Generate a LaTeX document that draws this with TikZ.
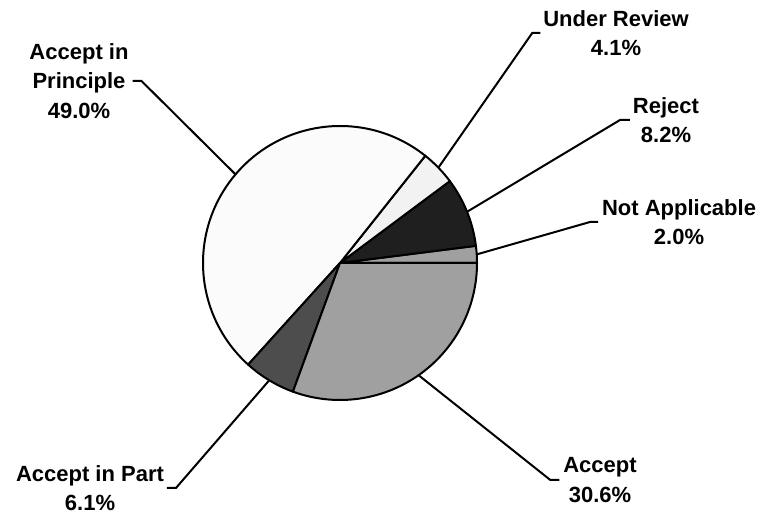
\documentclass[tikz,border=0pt]{standalone}
\usepackage{fontspec}
\setmainfont{Liberation Sans}
\definecolor{cPrin}{HTML}{FBFBFB}
\definecolor{cRev}{HTML}{F2F2F2}
\definecolor{cRej}{HTML}{1F1F1F}
\definecolor{cNA}{HTML}{A0A0A0}
\definecolor{cAcc}{HTML}{A0A0A0}
\definecolor{cPart}{HTML}{4D4D4D}
\tikzset{
  slice/.style={draw=black, line width=2pt, line join=round},
  leader/.style={draw=black, line width=2pt},
  lbl/.style={inner sep=0pt, outer sep=0pt, align=center, font=\bfseries\fontsize{22}{29.5}\selectfont}
}
\begin{document}
\begin{tikzpicture}[x=1pt,y=1pt]
\useasboundingbox (0,0) rectangle (762,516);
\coordinate (C) at (340,253);
\def\R{137pt}
% slices
\filldraw[slice, fill=cNA]   (C) -- ++(0:\R)     arc[start angle=0,     end angle=7.2,   radius=\R] -- cycle;
\filldraw[slice, fill=cRej]  (C) -- ++(7.2:\R)   arc[start angle=7.2,   end angle=36.7,  radius=\R] -- cycle;
\filldraw[slice, fill=cRev]  (C) -- ++(36.7:\R)  arc[start angle=36.7,  end angle=51.5,  radius=\R] -- cycle;
\filldraw[slice, fill=cPrin] (C) -- ++(51.5:\R)  arc[start angle=51.5,  end angle=227.9, radius=\R] -- cycle;
\filldraw[slice, fill=cPart] (C) -- ++(227.9:\R) arc[start angle=227.9, end angle=249.9, radius=\R] -- cycle;
\filldraw[slice, fill=cAcc]  (C) -- ++(249.9:\R) arc[start angle=249.9, end angle=360,   radius=\R] -- cycle;
% anchor points on rim
\coordinate (pPrin) at ([shift={(139.7:\R)}]C);
\coordinate (pRev)  at ([shift={(44.1:\R)}]C);
\coordinate (pRej)  at ([shift={(21.95:\R)}]C);
\coordinate (pNA)   at ([shift={(3.6:\R)}]C);
\coordinate (pAcc)  at ([shift={(-55:\R)}]C);
\coordinate (pPart) at ([shift={(238.9:\R)}]C);
% labels
\node[lbl] (lPrin) at (79,435) {Accept in\\Principle\\49.0\%};
\node[lbl] (lRev)  at (616,483) {Under Review\\4.1\%};
\node[lbl] (lRej)  at (666,396) {Reject\\8.2\%};
\node[lbl] (lNA)   at (679,294) {Not Applicable\\2.0\%};
\node[lbl] (lAcc)  at (600,36) {Accept\\30.6\%};
\node[lbl] (lPart) at (90,28) {Accept in Part\\6.1\%};
% leaders
\draw[leader] (pPrin) -- ([xshift=13pt]lPrin.east) -- ([xshift=4pt]lPrin.east);
\draw[leader] (pRev) -- ([xshift=-11pt]lRev.west) -- ([xshift=-3pt]lRev.west);
\draw[leader] (pRej) -- ([xshift=-13pt]lRej.west) -- ([xshift=-3pt]lRej.west);
\draw[leader] (pNA) -- ([xshift=-12pt]lNA.west) -- ([xshift=-4pt]lNA.west);
\draw[leader] (pAcc) -- ([xshift=-13pt]lAcc.west) -- ([xshift=-4pt]lAcc.west);
\draw[leader] (pPart) -- ([xshift=12pt]lPart.east) -- ([xshift=3pt]lPart.east);
\end{tikzpicture}
\end{document}
